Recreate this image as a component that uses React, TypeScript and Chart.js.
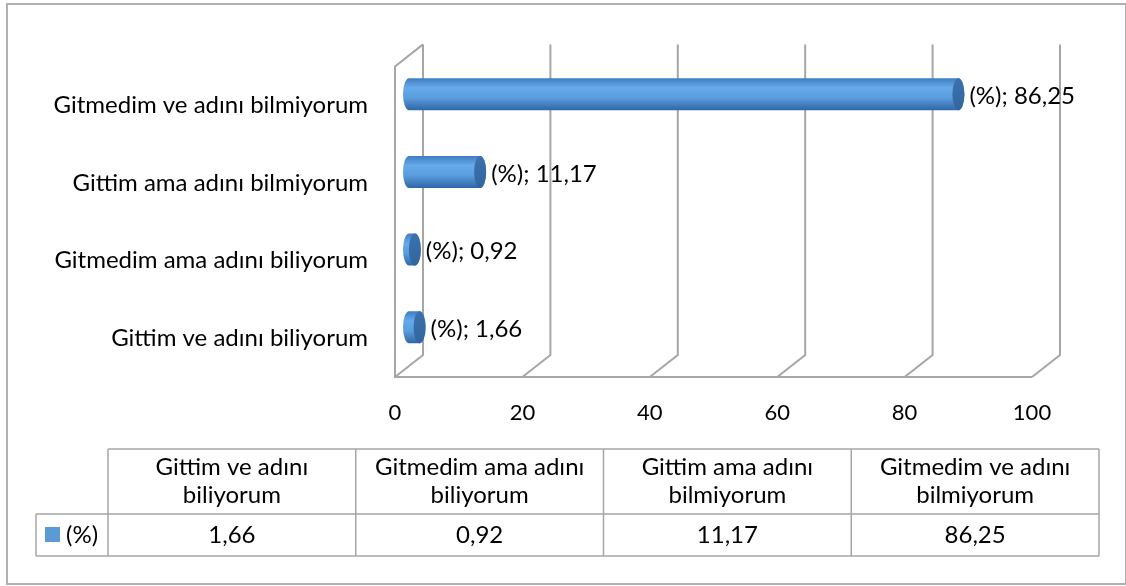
import React, { useEffect, useRef } from 'react';
import { Chart, registerables } from 'chart.js';

Chart.register(...registerables);

const categories = [
  'Gittim ve adını biliyorum',
  'Gitmedim ama adını biliyorum',
  'Gittim ama adını bilmiyorum',
  'Gitmedim ve adını bilmiyorum',
];
const seriesName = '(%)';
const values = [1.66, 0.92, 11.17, 86.25];
const xTicks = [0, 20, 40, 60, 80, 100];

const FONT = 'Lato, "Open Sans", sans-serif';
const FS = 24;
const FS_NUM = 22;
const DX = 14;
const DY = 11;
const LINE = '#a6a6a6';
const fmt = (v: number) => v.toFixed(2).replace('.', ',');

const wallsPlugin = {
  id: 'walls3d',
  beforeDatasetsDraw(chart: any) {
    const { ctx, chartArea: ca, scales } = chart;
    const x = scales.x;
    const backTop = ca.top - DY;
    const backBot = ca.bottom - DY;
    const frontBot = ca.bottom + DY;
    const frontTop = ca.top + DY;
    ctx.save();
    ctx.strokeStyle = LINE;
    ctx.lineWidth = 2;
    xTicks.forEach((v) => {
      const px = x.getPixelForValue(v);
      ctx.beginPath();
      ctx.moveTo(px + DX, backTop);
      ctx.lineTo(px + DX, backBot);
      ctx.lineTo(px - DX, frontBot);
      ctx.stroke();
    });
    const p0 = x.getPixelForValue(xTicks[0]);
    const pN = x.getPixelForValue(xTicks[xTicks.length - 1]);
    ctx.beginPath();
    ctx.moveTo(p0 + DX, backTop);
    ctx.lineTo(p0 - DX, frontTop);
    ctx.lineTo(p0 - DX, frontBot);
    ctx.lineTo(pN - DX, frontBot);
    ctx.stroke();
    ctx.restore();
  },
};

function drawCylinder(ctx: CanvasRenderingContext2D, base: number, end: number, cy: number, h: number) {
  const rx = 6;
  const ry = h / 2;
  const top = cy - ry;
  const bot = cy + ry;
  const g = ctx.createLinearGradient(0, top, 0, bot);
  g.addColorStop(0, '#3f7cc0');
  g.addColorStop(0.3, '#66aaec');
  g.addColorStop(0.6, '#5b9edf');
  g.addColorStop(1, '#2f67a6');
  ctx.beginPath();
  ctx.moveTo(base, top);
  ctx.lineTo(end, top);
  ctx.ellipse(end, cy, rx, ry, 0, -Math.PI / 2, Math.PI / 2, false);
  ctx.lineTo(base, bot);
  ctx.ellipse(base, cy, rx, ry, 0, Math.PI / 2, Math.PI * 1.5, false);
  ctx.closePath();
  ctx.fillStyle = g;
  ctx.fill();
  const g2 = ctx.createLinearGradient(end - rx, top, end + rx, bot);
  g2.addColorStop(0, '#3c73ae');
  g2.addColorStop(1, '#30649e');
  ctx.beginPath();
  ctx.ellipse(end, cy, rx, ry, 0, 0, Math.PI * 2);
  ctx.fillStyle = g2;
  ctx.fill();
}

const barsPlugin = {
  id: 'cylinders',
  afterDatasetsDraw(chart: any) {
    const { ctx } = chart;
    const meta = chart.getDatasetMeta(0);
    ctx.save();
    meta.data.forEach((el: any, i: number) => {
      const p = el.getProps(['x', 'y', 'base', 'height'], true);
      drawCylinder(ctx, p.base, p.x, p.y, p.height);
      ctx.fillStyle = '#000';
      ctx.font = `${FS}px ${FONT}`;
      ctx.textAlign = 'left';
      ctx.textBaseline = 'middle';
      ctx.fillText(`${seriesName}; ${fmt(values[i])}`, p.x + 11, p.y + 2);
    });
    ctx.restore();
  },
};

function wrap(ctx: CanvasRenderingContext2D, text: string, maxW: number) {
  const words = text.split(' ');
  const lines: string[] = [];
  let cur = '';
  words.forEach((w) => {
    const t = cur ? cur + ' ' + w : w;
    if (ctx.measureText(t).width > maxW && cur) {
      lines.push(cur);
      cur = w;
    } else cur = t;
  });
  if (cur) lines.push(cur);
  return lines;
}

const framePlugin = {
  id: 'frameTable',
  afterDraw(chart: any) {
    const { ctx } = chart;
    ctx.save();
    ctx.strokeStyle = '#b0b0b0';
    ctx.lineWidth = 2;
    ctx.strokeRect(7, 4, 1119, 580);

    const left = 108;
    const right = 1099;
    const legL = 36;
    const yTop = 449;
    const yMid = 514;
    const yBot = 556;
    const colW = (right - left) / categories.length;
    ctx.strokeStyle = LINE;
    ctx.lineWidth = 1.5;
    ctx.beginPath();
    ctx.moveTo(left, yTop); ctx.lineTo(right, yTop);
    ctx.moveTo(legL, yMid); ctx.lineTo(right, yMid);
    ctx.moveTo(legL, yBot); ctx.lineTo(right, yBot);
    ctx.moveTo(legL, yMid); ctx.lineTo(legL, yBot);
    for (let i = 0; i <= categories.length; i++) {
      const cx = left + i * colW;
      ctx.moveTo(cx, yTop); ctx.lineTo(cx, yBot);
    }
    ctx.stroke();

    ctx.fillStyle = '#000';
    ctx.font = `${FS}px ${FONT}`;
    ctx.textAlign = 'center';
    ctx.textBaseline = 'middle';
    categories.forEach((c, i) => {
      const cx = left + (i + 0.5) * colW;
      const lines = wrap(ctx, c, colW - 20);
      const lh = 28;
      const startY = (yTop + yMid) / 2 - ((lines.length - 1) * lh) / 2;
      lines.forEach((ln, j) => ctx.fillText(ln, cx, startY + j * lh));
      ctx.fillText(fmt(values[i]), cx, (yMid + yBot) / 2);
    });
    ctx.fillStyle = '#5b9bd5';
    ctx.fillRect(45, 527, 15, 15);
    ctx.fillStyle = '#000';
    ctx.textAlign = 'left';
    ctx.fillText(seriesName, 66, (yMid + yBot) / 2);
    ctx.restore();
  },
};

export default function App() {
  const ref = useRef<HTMLCanvasElement>(null);
  useEffect(() => {
    if (!ref.current) return;
    const chart = new Chart(ref.current, {
      type: 'bar',
      data: {
        labels: categories,
        datasets: [
          {
            label: seriesName,
            data: values,
            backgroundColor: 'rgba(0,0,0,0)',
            borderWidth: 0,
            barThickness: 32,
          },
        ],
      },
      options: {
        indexAxis: 'y',
        animation: false,
        responsive: false,
        maintainAspectRatio: false,
        layout: { padding: { left: 0, top: 50, right: 80, bottom: 0 } },
        plugins: { legend: { display: false }, tooltip: { enabled: false } },
        scales: {
          x: {
            min: 0,
            max: 100,
            ticks: { stepSize: 20, labelOffset: -DX, padding: 34, color: '#000', font: { family: FONT, size: FS_NUM } },
            grid: { display: false, drawTicks: false },
            border: { display: false },
            afterFit: (s: any) => { s.height = 220; },
          },
          y: {
            reverse: true,
            ticks: { padding: 41, labelOffset: DY, color: '#000', font: { family: FONT, size: FS } },
            grid: { display: false, drawTicks: false },
            border: { display: false },
            afterFit: (s: any) => { s.width = 409; },
          },
        },
      } as any,
      plugins: [wallsPlugin, barsPlugin, framePlugin],
    });
    return () => chart.destroy();
  }, []);
  return (
    <div style={{ position: 'absolute', left: 0, top: 0, width: 1126, height: 586, background: '#fff' }}>
      <canvas ref={ref} width={1126} height={586} style={{ width: 1126, height: 586, display: 'block' }} />
    </div>
  );
}
